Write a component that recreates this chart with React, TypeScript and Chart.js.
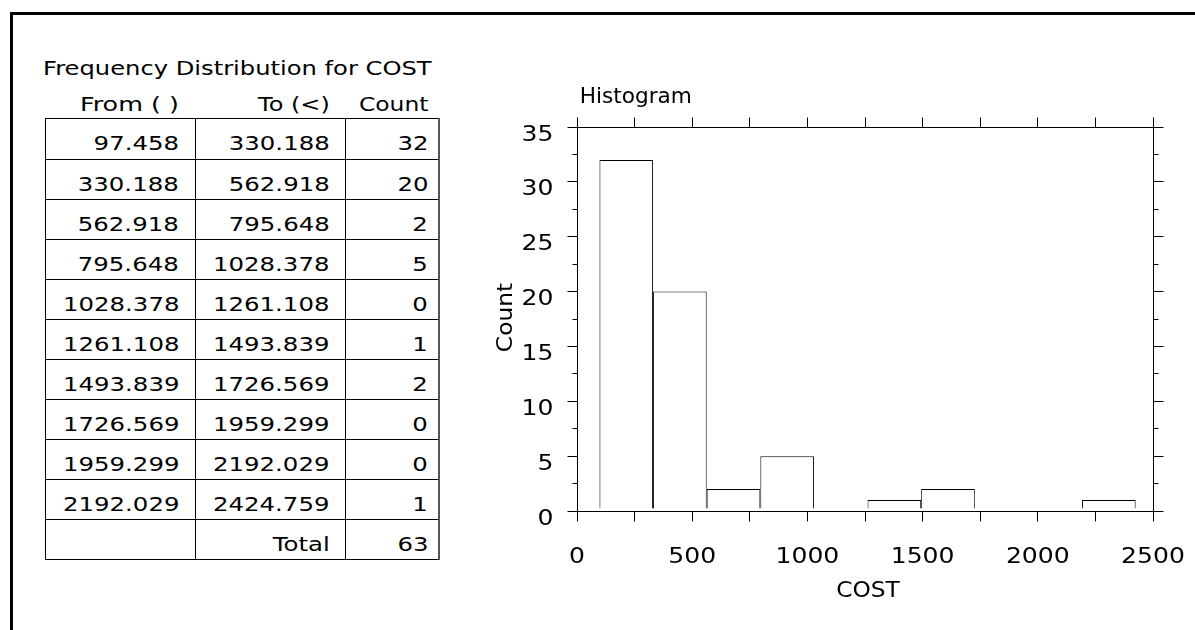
import React, { useEffect, useRef } from "react";
import { Chart, registerables } from "chart.js";

Chart.register(...registerables);

// ---------------- data ----------------
const tableTitle = "Frequency Distribution for COST";
const headerLabels = ["From ( )", "To (<)", "Count"];
const binFrom = [97.458, 330.188, 562.918, 795.648, 1028.378, 1261.108, 1493.839, 1726.569, 1959.299, 2192.029];
const binTo = [330.188, 562.918, 795.648, 1028.378, 1261.108, 1493.839, 1726.569, 1959.299, 2192.029, 2424.759];
const binCounts = [32, 20, 2, 5, 0, 1, 2, 0, 0, 1];
const totalLabel = "Total";
const totalCount = 63;

const chartTitle = "Histogram";
const xAxisTitle = "COST";
const yAxisTitle = "Count";
const xTickLabels = ["0", "500", "1000", "1500", "2000", "2500"];
const yTickLabels = ["0", "5", "10", "15", "20", "25", "30", "35"];
const xMin = 0;
const xMax = 2500;
const xMinorStep = 250;
const yMin = 0;
const yMax = 35;
const yMinorStep = 2.5;

// ---------------- styling helpers ----------------
const FONT = "'DejaVu Sans', Verdana, sans-serif";

function drawScaledText(
  ctx: CanvasRenderingContext2D,
  text: string,
  x: number,
  y: number,
  sx: number,
  align: CanvasTextAlign,
  rotate = 0
) {
  ctx.save();
  ctx.translate(x, y);
  if (rotate) ctx.rotate(rotate);
  ctx.scale(sx, 1);
  ctx.textAlign = align;
  ctx.textBaseline = "alphabetic";
  ctx.fillText(text, 0, 0);
  ctx.restore();
}

const axesPlugin = {
  id: "frameAxes",
  afterDraw(chart: any) {
    const { ctx, chartArea: a } = chart;
    const xs = chart.scales.x;
    const ys = chart.scales.y;
    const px = (v: number) => Math.floor(v) + 0.5;
    const L = px(a.left);
    const R = px(a.right);
    const T = px(a.top);
    const B = px(a.bottom);
    ctx.save();
    ctx.strokeStyle = "#000";
    ctx.lineWidth = 1;
    ctx.beginPath();
    ctx.moveTo(L, T);
    ctx.lineTo(R, T);
    ctx.lineTo(R, B);
    ctx.lineTo(L, B);
    ctx.closePath();
    ys.ticks.forEach((t: any) => {
      const yy = px(ys.getPixelForValue(t.value));
      const major = yTickLabels.includes(String(t.value));
      const len = major ? 10 : 5;
      ctx.moveTo(L - len, yy);
      ctx.lineTo(L, yy);
      ctx.moveTo(R, yy);
      ctx.lineTo(R + len, yy);
    });
    xs.ticks.forEach((t: any) => {
      const xx = px(xs.getPixelForValue(t.value));
      ctx.moveTo(xx, T - 10);
      ctx.lineTo(xx, T);
      ctx.moveTo(xx, B);
      ctx.lineTo(xx, B + 10);
    });
    ctx.stroke();

    ctx.fillStyle = "#000";
    ctx.font = `22px ${FONT}`;
    ys.ticks.forEach((t: any) => {
      const lbl = yTickLabels.find((l) => Number(l) === t.value);
      if (lbl === undefined) return;
      const yy = ys.getPixelForValue(t.value);
      drawScaledText(ctx, lbl, a.left - 23.5, yy + 13.5, 1.14, "right");
    });
    xs.ticks.forEach((t: any) => {
      const lbl = xTickLabels.find((l) => Number(l) === t.value);
      if (lbl === undefined) return;
      const xx = xs.getPixelForValue(t.value);
      drawScaledText(ctx, lbl, xx, a.bottom + 51.7, 1.14, "center");
    });

    // axis titles
    drawScaledText(ctx, xAxisTitle, (a.left + a.right) / 2 + 3, a.bottom + 85.7, 1.06, "center");
    drawScaledText(ctx, yAxisTitle, a.left - 65.5, (a.top + a.bottom) / 2 - 1.5, 1.06, "center", -Math.PI / 2);

    // chart title
    ctx.font = `21px ${FONT}`;
    drawScaledText(ctx, chartTitle, a.left + 2.7, a.top - 23.7, 1.03, "left");
    ctx.restore();
  },
};

function Histogram() {
  const ref = useRef<HTMLCanvasElement | null>(null);
  useEffect(() => {
    if (!ref.current) return;
    const centers = binFrom.map((f, i) => (f + binTo[i]) / 2);
    const chart = new Chart(ref.current, {
      type: "bar",
      data: {
        datasets: [
          {
            data: centers.map((c, i) => ({ x: c, y: binCounts[i] === 0 ? null : binCounts[i] })),
            backgroundColor: "#fff",
            borderColor: "#000",
            borderWidth: 1,
            borderSkipped: "start",
            inflateAmount: 0,
            base: 0.22,
            barPercentage: 1,
            categoryPercentage: 1,
          } as any,
        ],
      },
      options: {
        responsive: false,
        animation: false,
        devicePixelRatio: 1,
        layout: { padding: { left: 117, right: 42, top: 67, bottom: 119 } },
        plugins: {
          legend: { display: false },
          title: { display: false },
          tooltip: { enabled: false },
        },
        scales: {
          x: {
            type: "linear",
            display: false,
            min: xMin,
            max: xMax,
            offset: false,
            ticks: { stepSize: xMinorStep },
          },
          y: {
            type: "linear",
            display: false,
            min: yMin,
            max: yMax,
            ticks: { stepSize: yMinorStep },
          },
        },
      } as any,
      plugins: [axesPlugin],
    });
    return () => chart.destroy();
  }, []);
  return (
    <canvas
      ref={ref}
      width={735}
      height={570}
      style={{ position: "absolute", left: 460, top: 60, width: 735, height: 570 }}
    />
  );
}

function HText({ x, baseline, text, align, size = 20, sx = 1.2 }: any) {
  const top = baseline - 0.846 * size;
  const common: any = {
    position: "absolute",
    top,
    height: size,
    fontFamily: FONT,
    fontSize: size,
    lineHeight: `${size}px`,
    color: "#000",
    whiteSpace: "nowrap",
  };
  if (align === "right") {
    return (
      <div style={{ ...common, left: x - 500, width: 500, textAlign: "right" }}>
        <span style={{ display: "inline-block", transform: `scaleX(${sx})`, transformOrigin: "100% 50%" }}>{text}</span>
      </div>
    );
  }
  return (
    <div style={{ ...common, left: x }}>
      <span style={{ display: "inline-block", transform: `scaleX(${sx})`, transformOrigin: "0% 50%" }}>{text}</span>
    </div>
  );
}

function FreqTable() {
  const colLines = [45, 195, 345];
  const rightEdge = 438;
  const textRight = [179, 329.5, 428];
  const headerScale = [1.27, 1.2, 1.17];
  const rows: string[][] = binFrom.map((f, i) => [f.toFixed(3), binTo[i].toFixed(3), String(binCounts[i])]);
  rows.push(["", totalLabel, String(totalCount)]);
  const rowTop = (i: number) => (i === 0 ? 118 : 159 + 40 * (i - 1));
  const hLines = [118];
  for (let i = 0; i < rows.length; i++) hLines.push(159 + 40 * i);
  const tableBottom = hLines[hLines.length - 1];
  return (
    <>
      <HText x={43} baseline={75} text={tableTitle} align="left" sx={1.21} />
      {headerLabels.map((h, j) => (
        <HText key={"h" + j} x={textRight[j]} baseline={111} text={h} align="right" sx={headerScale[j]} />
      ))}
      {hLines.map((y, i) => (
        <div key={"hl" + i} style={{ position: "absolute", left: 45, top: y, width: rightEdge - 45 + 2, height: 1, background: "#000" }} />
      ))}
      {colLines.map((x, i) => (
        <div key={"vl" + i} style={{ position: "absolute", left: x, top: 118, width: 1, height: tableBottom - 118 + 1, background: "#000" }} />
      ))}
      <div style={{ position: "absolute", left: rightEdge, top: 118, width: 2, height: tableBottom - 118 + 1, background: "#555" }} />
      {rows.map((r, i) =>
        r.map((cell, j) =>
          cell ? (
            <HText key={`c${i}-${j}`} x={textRight[j]} baseline={rowTop(i) + 32} text={cell} align="right" sx={1.22} />
          ) : null
        )
      )}
    </>
  );
}

export default function App() {
  return (
    <div style={{ position: "fixed", left: 0, top: 0, width: 1195, height: 630, overflow: "hidden", background: "#fff" }}>
      <div
        style={{
          position: "absolute",
          left: 10,
          top: 12,
          width: 1400,
          height: 800,
          borderTop: "3px solid #000",
          borderLeft: "3px solid #000",
        }}
      />
      <FreqTable />
      <Histogram />
    </div>
  );
}
